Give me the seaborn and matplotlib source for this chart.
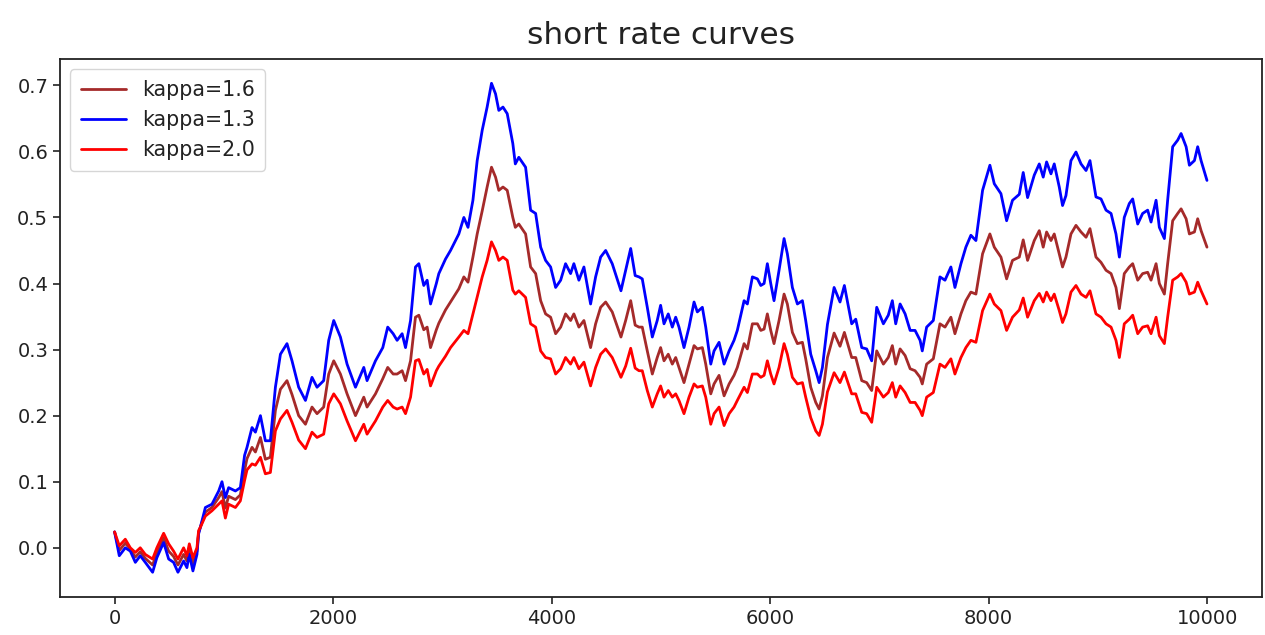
import matplotlib
matplotlib.use("Agg")
import matplotlib.pyplot as plt
import seaborn as sns
import pandas as pd

steps = [0, 43, 98, 144, 190, 235, 281, 348, 387, 449, 495, 540, 580, 632, 662, 684, 717, 754, 769, 785,
         831, 891, 953, 983, 1014, 1044, 1106, 1151, 1190, 1212, 1258, 1289, 1335, 1380, 1426, 1472, 1518, 1578, 1624, 1685,
         1747, 1807, 1853, 1914, 1960, 2006, 2067, 2128, 2205, 2281, 2311, 2388, 2455, 2500, 2550, 2586, 2632, 2663, 2709, 2754,
         2785, 2830, 2861, 2892, 2945, 2968, 3029, 3075, 3151, 3197, 3235, 3280, 3319, 3365, 3410, 3450, 3487, 3517, 3555, 3594,
         3645, 3668, 3700, 3762, 3808, 3854, 3900, 3945, 3991, 4037, 4083, 4128, 4174, 4204, 4250, 4296, 4357, 4403, 4449, 4495,
         4555, 4635, 4678, 4724, 4765, 4800, 4830, 4876, 4922, 4967, 4998, 5029, 5068, 5105, 5136, 5166, 5212, 5258, 5304, 5334,
         5380, 5411, 5457, 5487, 5533, 5579, 5625, 5670, 5700, 5762, 5792, 5838, 5884, 5915, 5945, 5975, 6006, 6036, 6082, 6128,
         6158, 6204, 6250, 6296, 6326, 6372, 6418, 6449, 6479, 6525, 6586, 6640, 6680, 6747, 6784, 6839, 6884, 6930, 6976, 7037,
         7082, 7119, 7150, 7190, 7236, 7282, 7327, 7373, 7393, 7433, 7494, 7555, 7601, 7655, 7692, 7747, 7792, 7838, 7884, 7945,
         8012, 8052, 8113, 8165, 8219, 8281, 8317, 8357, 8418, 8464, 8500, 8531, 8571, 8601, 8647, 8677, 8708, 8754, 8800, 8846,
         8892, 8928, 8983, 9029, 9075, 9121, 9166, 9197, 9242, 9288, 9319, 9365, 9410, 9456, 9487, 9533, 9563, 9609, 9639, 9685,
         9731, 9762, 9808, 9838, 9884, 9914, 9945, 9999]

rate_k13 = [.024, -.012, .000, -.005, -.022, -.012, -.022, -.037, -.015, .008, -.017, -.022, -.037, -.020, -.030, -.010, -.035, -.010, .021, .031,
            .061, .066, .086, .100, .076, .091, .086, .091, .140, .152, .182, .175, .200, .162, .162, .243, .293, .309, .283, .243,
            .223, .258, .243, .253, .314, .344, .319, .278, .243, .273, .253, .283, .303, .334, .324, .314, .324, .303, .344, .425,
            .430, .397, .405, .369, .400, .415, .437, .450, .475, .500, .485, .526, .586, .632, .667, .703, .687, .662, .667, .657,
            .612, .581, .591, .576, .511, .506, .455, .435, .425, .394, .405, .430, .415, .430, .405, .425, .369, .410, .440, .450,
            .430, .389, .420, .453, .412, .410, .407, .364, .319, .344, .367, .339, .354, .334, .349, .334, .303, .334, .372, .357,
            .364, .334, .278, .298, .311, .278, .298, .314, .329, .374, .369, .410, .407, .397, .400, .430, .400, .374, .420, .468,
            .445, .394, .369, .374, .344, .293, .268, .250, .273, .338, .394, .372, .397, .339, .346, .303, .301, .283, .364, .339,
            .352, .374, .339, .369, .354, .329, .329, .314, .298, .334, .344, .410, .405, .425, .394, .430, .455, .473, .465, .541,
            .579, .551, .536, .495, .526, .535, .568, .530, .564, .581, .561, .584, .566, .581, .546, .518, .533, .586, .599, .581,
            .571, .586, .531, .528, .511, .506, .475, .440, .500, .521, .528, .490, .506, .511, .493, .526, .485, .468, .526, .607,
            .617, .627, .607, .579, .586, .607, .586, .556]

rate_k16 = [.024, -.004, .007, -.002, -.014, -.006, -.016, -.026, -.008, .015, -.005, -.013, -.026, -.010, -.020, -.002, -.024, -.005, .023, .031,
            .054, .061, .076, .085, .060, .078, .073, .080, .117, .135, .152, .145, .167, .134, .137, .208, .240, .253, .232, .200,
            .187, .213, .203, .213, .263, .283, .263, .233, .200, .228, .213, .233, .256, .273, .263, .263, .268, .253, .283, .349,
            .352, .330, .334, .303, .330, .340, .360, .372, .392, .410, .402, .440, .475, .510, .546, .576, .561, .541, .546, .541,
            .500, .485, .490, .475, .425, .415, .374, .354, .349, .324, .334, .354, .344, .354, .334, .344, .303, .339, .364, .372,
            .357, .319, .344, .374, .337, .334, .334, .298, .263, .288, .303, .283, .293, .278, .288, .273, .250, .278, .306, .301,
            .303, .278, .233, .248, .261, .230, .248, .261, .273, .309, .301, .339, .339, .329, .331, .354, .329, .309, .344, .384,
            .369, .326, .309, .311, .286, .243, .220, .210, .230, .288, .325, .305, .326, .288, .288, .253, .250, .238, .298, .278,
            .288, .306, .278, .301, .291, .271, .268, .258, .248, .278, .286, .339, .334, .349, .324, .354, .374, .387, .384, .445,
            .475, .455, .440, .407, .435, .440, .466, .435, .465, .480, .455, .478, .465, .475, .445, .425, .440, .475, .488, .478,
            .470, .483, .440, .432, .420, .415, .394, .362, .415, .425, .430, .405, .415, .417, .405, .430, .400, .384, .430, .495,
            .506, .513, .498, .475, .478, .498, .480, .455]

rate_k20 = [.024, .003, .013, .000, -.007, .000, -.010, -.017, .000, .022, .006, -.005, -.017, .000, -.012, .006, -.015, .000, .026, .031,
            .048, .056, .066, .071, .045, .066, .061, .071, .102, .118, .127, .125, .137, .112, .114, .177, .195, .208, .190, .163,
            .150, .175, .167, .172, .218, .233, .218, .192, .162, .187, .172, .192, .213, .223, .213, .210, .213, .203, .228, .283,
            .285, .263, .270, .245, .268, .275, .290, .303, .319, .329, .324, .354, .380, .410, .435, .463, .450, .435, .440, .435,
            .390, .384, .389, .379, .339, .334, .298, .288, .286, .263, .271, .288, .278, .288, .271, .281, .245, .273, .293, .301,
            .288, .258, .275, .302, .272, .268, .268, .238, .213, .233, .245, .228, .238, .228, .233, .223, .203, .228, .248, .243,
            .245, .228, .187, .203, .213, .185, .203, .213, .223, .243, .235, .263, .263, .258, .261, .283, .263, .248, .273, .309,
            .293, .258, .248, .250, .228, .197, .177, .170, .187, .236, .265, .250, .266, .233, .233, .205, .203, .190, .243, .228,
            .235, .250, .228, .245, .235, .220, .220, .208, .200, .228, .235, .278, .273, .286, .263, .288, .303, .314, .311, .359,
            .384, .369, .359, .329, .349, .360, .378, .349, .374, .385, .372, .387, .374, .384, .359, .341, .354, .387, .397, .384,
            .379, .389, .354, .349, .339, .334, .314, .288, .339, .346, .352, .324, .334, .336, .324, .349, .321, .309, .349, .405,
            .410, .415, .402, .384, .387, .402, .389, .369]

labels = ["kappa=1.6", "kappa=1.3", "kappa=2.0"]
colors = {"kappa=1.6": "brown", "kappa=1.3": "blue", "kappa=2.0": "red"}

df = pd.concat([
    pd.DataFrame({"step": steps, "rate": rate_k16, "series": labels[0]}),
    pd.DataFrame({"step": steps, "rate": rate_k13, "series": labels[1]}),
    pd.DataFrame({"step": steps, "rate": rate_k20, "series": labels[2]}),
], ignore_index=True)

sns.set_theme(style="ticks")
plt.rcParams["font.family"] = ["DejaVu Sans"]
plt.rcParams["axes.edgecolor"] = "#222222"
plt.rcParams["xtick.color"] = "#222222"
plt.rcParams["ytick.color"] = "#222222"

fig = plt.figure(figsize=(12.65, 6.35), dpi=100)
ax = fig.add_axes([0.0474, 0.0598, 0.950, 0.847])

sns.lineplot(data=df, x="step", y="rate", hue="series", hue_order=labels,
             palette=colors, estimator=None, sort=False, linewidth=2.0, ax=ax)

ax.set_xlim(-500, 10500)
ax.set_ylim(-0.0745, 0.7395)
ax.set_xticks([0, 2000, 4000, 6000, 8000, 10000])
ax.set_yticks([0.0, 0.1, 0.2, 0.3, 0.4, 0.5, 0.6, 0.7])
ax.set_yticklabels(["0.0", "0.1", "0.2", "0.3", "0.4", "0.5", "0.6", "0.7"])
ax.tick_params(labelsize=14, length=5, width=1.2, colors="#222222")
ax.set_xlabel("")
ax.set_ylabel("")
for s in ax.spines.values():
    s.set_visible(True)
    s.set_linewidth(1.3)
ax.set_title("short rate curves", fontsize=22.5, color="#222222", pad=11)
leg = ax.legend(loc="upper left", fontsize=14.8, frameon=True, handlelength=2.2,
                borderpad=0.5, labelspacing=0.5, fancybox=True)
leg.get_frame().set_edgecolor("#cccccc")
for t in leg.get_texts():
    t.set_color("#222222")

fig.savefig("out.png", dpi=100)
